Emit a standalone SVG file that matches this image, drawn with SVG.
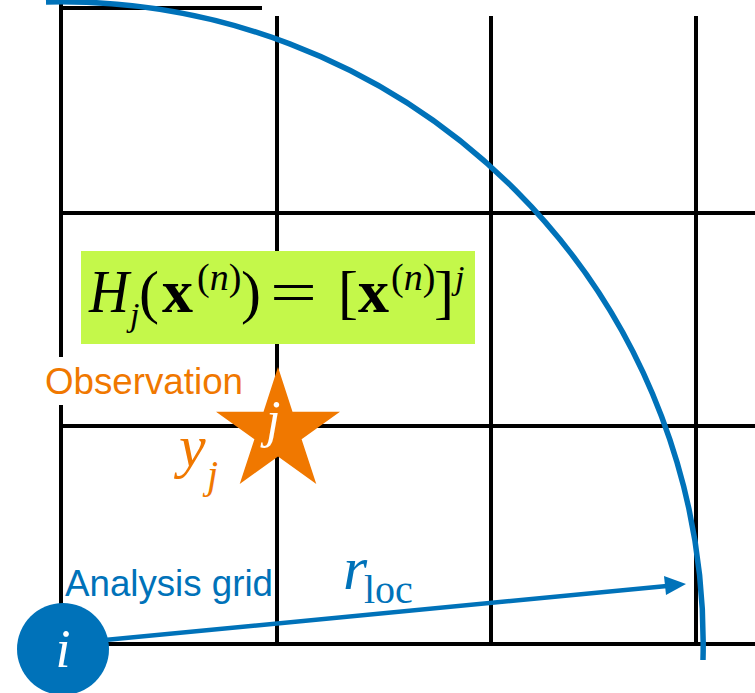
<svg xmlns="http://www.w3.org/2000/svg" width="755" height="693" viewBox="0 0 755 693">
<defs>
<style>
.grid{stroke:#000;stroke-width:4;fill:none}
.blue{stroke:#0072b9;stroke-width:5.5;fill:none}
.serif{font-family:"Liberation Serif","Times New Roman",serif}
.sans{font-family:"Liberation Sans",Arial,sans-serif}
.it{font-style:italic}
</style>
</defs>
<rect width="755" height="693" fill="#fff"/>
<g id="grid">
<line class="grid" x1="61" y1="0" x2="61" y2="646"/>
<line class="grid" x1="277" y1="16" x2="277" y2="646"/>
<line class="grid" x1="491" y1="16" x2="491" y2="646"/>
<line class="grid" x1="696" y1="16" x2="696" y2="646"/>
<line class="grid" x1="59" y1="8" x2="262" y2="8"/>
<line class="grid" x1="59" y1="213" x2="755" y2="213"/>
<line class="grid" x1="59" y1="426" x2="755" y2="426"/>
<line class="grid" x1="59" y1="644" x2="755" y2="644"/>
</g>
<g id="radius-arc">
<path class="blue" d="M 46 2 A 642 642 0 0 1 703 660"/>
</g>
<g id="formula">
<rect x="81" y="251" width="394" height="93" fill="#c4f84a"/>
<g class="serif" fill="#000">
<text x="89" y="312" font-size="61" class="it" textLength="40" lengthAdjust="spacingAndGlyphs">H</text>
<text x="130" y="326" font-size="34" class="it">j</text>
<text x="139" y="312" font-size="60">(</text>
<text x="162" y="312" font-size="62" font-weight="bold">x</text>
<text x="197" y="290" font-size="38">(<tspan class="it">n</tspan>)</text>
<text x="241" y="312" font-size="60">)</text>
<text x="270" y="312" font-size="60" textLength="47" lengthAdjust="spacingAndGlyphs">=</text>
<text x="338" y="312" font-size="60">[</text>
<text x="358" y="312" font-size="62" font-weight="bold">x</text>
<text x="391" y="290" font-size="38">(<tspan class="it">n</tspan>)</text>
<text x="434" y="312" font-size="60">]</text>
<text x="455" y="289" font-size="34" class="it">j</text>
</g>
</g>
<g id="observation">
<rect x="40" y="357" width="207" height="48" fill="#fff"/>
<text x="45" y="394" class="sans" font-size="36" fill="#f07800" textLength="198" lengthAdjust="spacingAndGlyphs">Observation</text>
<polygon fill="#f07800" points="278,367 292.5,411.7 340,411.7 301.6,439.3 316.3,484 278,456.4 239.7,484 254.4,439.3 216,411.7 263.5,411.7"/>
<text x="266" y="437" class="serif it" font-size="52" fill="#fff">j</text>
<text x="179" y="466" class="serif it" font-size="60" fill="#f07800">y</text>
<text x="207" y="488" class="serif it" font-size="40" fill="#f07800">j</text>
</g>
<g id="connectors">
<line x1="63" y1="644" x2="667" y2="586" stroke="#0072b9" stroke-width="4.5"/>
<polygon fill="#0072b9" points="686,584 666,595 664,576"/>
</g>
<g id="labels">
<text x="65" y="596" class="sans" font-size="36" fill="#0072b9" textLength="208" lengthAdjust="spacingAndGlyphs">Analysis grid</text>
<text x="343" y="589" class="serif it" font-size="62" fill="#0072b9">r</text>
<text x="364" y="603" class="serif" font-size="40" fill="#0072b9">loc</text>
</g>
<g id="node-i">
<circle cx="63" cy="649" r="46" fill="#0072b9"/>
<text x="63" y="667" text-anchor="middle" class="serif it" font-size="54" fill="#fff">i</text>
</g>
</svg>
